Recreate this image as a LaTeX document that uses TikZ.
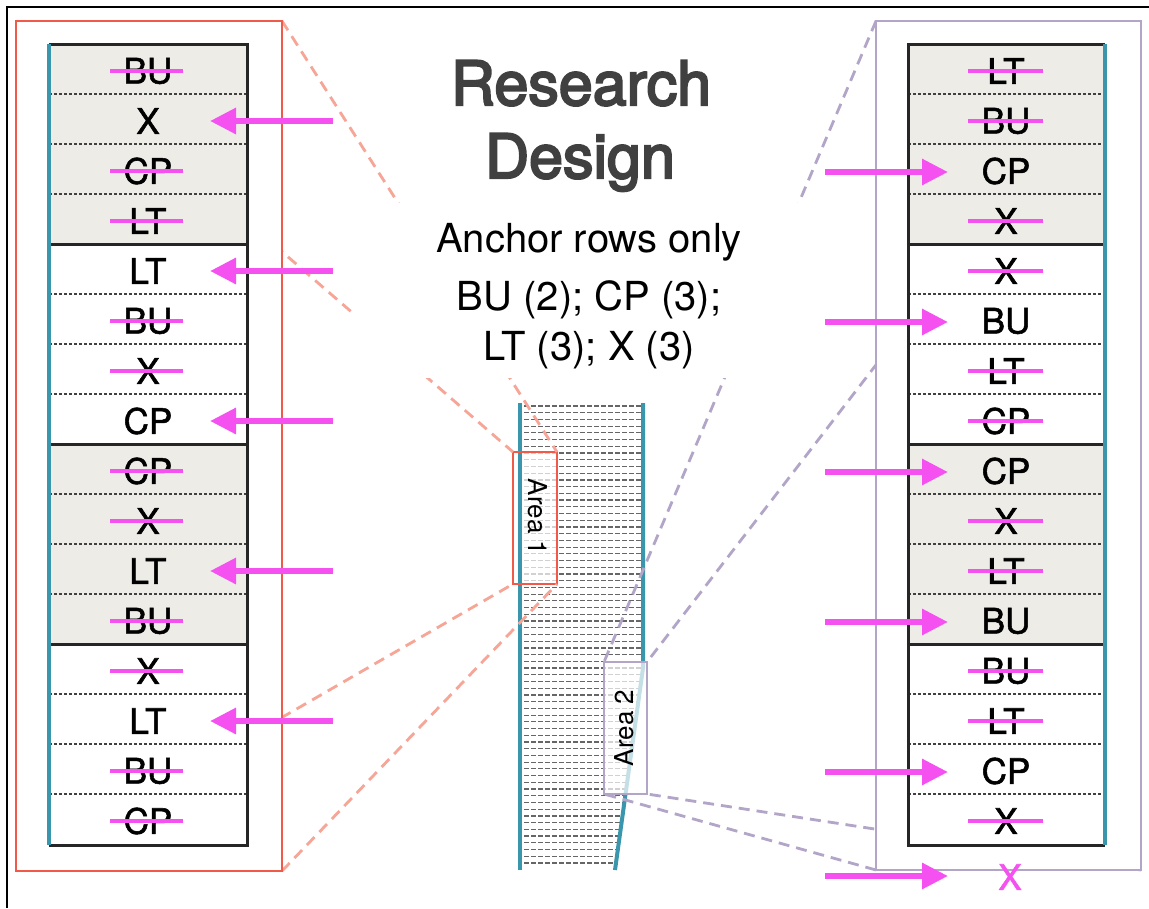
\documentclass[tikz,border=0pt]{standalone}
\usepackage{fontspec}
\setmainfont{TeX Gyre Heros}
\newfontfamily\titlefont{TeX Gyre Heros}[FakeBold=3.5]
\newfontfamily\cellfont{TeX Gyre Heros}[FakeBold=1.5]
\usetikzlibrary{arrows.meta}
\definecolor{teal1}{RGB}{58,150,172}
\definecolor{redf}{RGB}{240,90,72}
\definecolor{salmon}{RGB}{246,165,150}
\definecolor{purp}{RGB}{178,165,200}
\definecolor{mag}{RGB}{245,80,240}
\definecolor{cellgray}{RGB}{237,236,230}
\definecolor{titlegray}{RGB}{64,64,64}
\tikzset{
  cell/.style={font=\cellfont\fontsize{35}{40}\selectfont, inner sep=0pt},
  strike/.style={draw=mag, line width=4.5pt},
  marrow/.style={draw=mag, line width=6pt, -{Triangle[length=26pt,width=25pt]}},
  zoomred/.style={draw=salmon, line width=2.8pt, dash pattern=on 11pt off 7pt},
  zoompurp/.style={draw=purp, line width=2.8pt, dash pattern=on 11pt off 7pt},
  rowsep/.style={draw=black!75, line width=1.1pt, dash pattern=on 3pt off 2pt},
  blocksep/.style={draw=black!85, line width=3pt},
  stripline/.style={draw=black!60, line width=1.2pt, dash pattern=on 4.5pt off 2.5pt},
  tealedge/.style={draw=teal1, line width=4pt},
  arealabel/.style={font=\fontsize{26}{30}\selectfont, inner sep=0pt},
  infotext/.style={font=\fontsize{40}{46}\selectfont, anchor=base, inner sep=0pt},
  titletext/.style={font=\titlefont\fontsize{61}{72}\selectfont, text=titlegray, anchor=base, inner sep=0pt},
}
\begin{document}
\begin{tikzpicture}[x=1pt,y=-1pt]
\useasboundingbox (0,0) rectangle (1149,908);
\fill[white] (0,0) rectangle (1149,908);
\draw[black, line width=1.5pt] (7,908) -- (7,7) -- (1149,7);

% ---- central strip ----
\foreach \i in {0,...,68} {
  \pgfmathsetmacro{\yy}{406+\i*6.72}
  \pgfmathsetmacro{\xr}{\yy<668 ? 643 : 643-0.139*(\yy-668)}
  \draw[stripline] (524,\yy) -- (\xr,\yy);
}
\fill[white, opacity=0.7] (513,452) rectangle (557,584);
\draw[tealedge] (520,403) -- (520,870);
\draw[tealedge] (643,403) -- (643,668) -- (615,870);
\filldraw[fill=white, fill opacity=0.7, draw=purp, line width=1.5pt] (604,662) rectangle (647,794);
\draw[redf, line width=1.5pt] (513,452) rectangle (557,584);
\node[arealabel, rotate=-90] (a1) at (538,517) {Area 1};
\node[arealabel, rotate=90] (a2) at (624,728) {Area 2};

% ---- corner coordinates ----
\coordinate (rTL) at (16,21);
\coordinate (rTR) at (282,21);
\coordinate (rBL) at (16,871);
\coordinate (rBR) at (282,871);
\coordinate (pTL) at (876,21);
\coordinate (pTR) at (1141,21);
\coordinate (pBL) at (876,870);
\coordinate (pBR) at (1141,870);
\coordinate (a1TL) at (513,452);
\coordinate (a1TR) at (557,452);
\coordinate (a1BL) at (513,584);
\coordinate (a1BR) at (557,584);
\coordinate (a2TL) at (604,662);
\coordinate (a2TR) at (647,662);
\coordinate (a2BL) at (604,794);
\coordinate (a2BR) at (647,794);

% ---- zoom lines ----
\draw[zoomred] (rTR) -- (a1TR);
\draw[zoomred] (rTL) -- (a1TL);
\draw[zoomred] (rBL) -- (a1BL);
\draw[zoomred] (rBR) -- (a1BR);
\draw[zoompurp] (pTL) -- (a2TL);
\draw[zoompurp] (pTR) -- (a2TR);
\draw[zoompurp] (pBL) -- (a2BL);
\draw[zoompurp] (pBR) -- (a2BR);

% ---- frames ----
\draw[redf, line width=2pt, fill=white] (rTL) rectangle (rBR);
\draw[purp, line width=2pt, fill=white] (pTL) rectangle (pBR);

% ---- left table ----
\foreach \b in {0,2} \fill[cellgray] (49,{44+200*\b}) rectangle (247,{244+200*\b});
\foreach \k in {1,2,3,5,6,7,9,10,11,13,14,15} \draw[rowsep] (49,{44+50*\k}) -- (247,{44+50*\k});
\foreach \k in {4,8,12} \draw[blocksep] (49,{44+50*\k}) -- (247,{44+50*\k});
\draw[blocksep] (49,44) -- (247,44) -- (247,845) -- (49,845);
\draw[tealedge] (49,44) -- (49,845);
\foreach \t/\s [count=\i from 0] in {BU/1,X/0,CP/1,LT/1,LT/0,BU/1,X/1,CP/0,CP/1,X/1,LT/0,BU/1,X/1,LT/0,BU/1,CP/1} {
  \node[cell] (L\i) at (148,{71+50*\i}) {\t};
  \ifnum\s=1 \draw[strike] (110,{71+50*\i}) -- (183,{71+50*\i}); \fi
}

% ---- right table ----
\foreach \b in {0,2} \fill[cellgray] (908,{44+200*\b}) rectangle (1105,{244+200*\b});
\foreach \k in {1,2,3,5,6,7,9,10,11,13,14,15} \draw[rowsep] (908,{44+50*\k}) -- (1105,{44+50*\k});
\foreach \k in {4,8,12} \draw[blocksep] (908,{44+50*\k}) -- (1105,{44+50*\k});
\draw[blocksep] (1105,44) -- (908,44) -- (908,845) -- (1105,845);
\draw[tealedge] (1105,44) -- (1105,845);
\foreach \t/\s [count=\i from 0] in {LT/1,BU/1,CP/0,X/1,X/1,BU/0,LT/1,CP/1,CP/0,X/1,LT/1,BU/0,BU/1,LT/1,CP/0,X/1} {
  \node[cell] (R\i) at (1006,{71+50*\i}) {\t};
  \ifnum\s=1 \draw[strike] (968,{71+50*\i}) -- (1043,{71+50*\i}); \fi
}
\node[cell, text=mag] (Rx) at (1010,877) {X};

% ---- arrows ----
\foreach \r in {1,4,7,10,13} {
  \coordinate (ls\r) at (333,{71+50*\r});
  \coordinate (le\r) at (210,{71+50*\r});
  \draw[marrow] (ls\r) -- (le\r);
}
\foreach \r in {2,5,8,11,14} {
  \coordinate (rs\r) at (825,{72+50*\r});
  \coordinate (re\r) at (948,{72+50*\r});
  \draw[marrow] (rs\r) -- (re\r);
}
\coordinate (rsx) at (825,876);
\coordinate (rex) at (948,876);
\draw[marrow] (rsx) -- (rex);

% ---- centre text ----
\fill[white] (353,203) rectangle (800,378);
\node[titletext] (t1) at (581,105) {Research};
\node[titletext] (t2) at (580,178) {Design};
\node[infotext] (i1) at (589,252) {Anchor rows only};
\node[infotext] (i2) at (589,310) {BU (2); CP (3);};
\node[infotext] (i3) at (589,360) {LT (3); X (3)};
\end{tikzpicture}
\end{document}
